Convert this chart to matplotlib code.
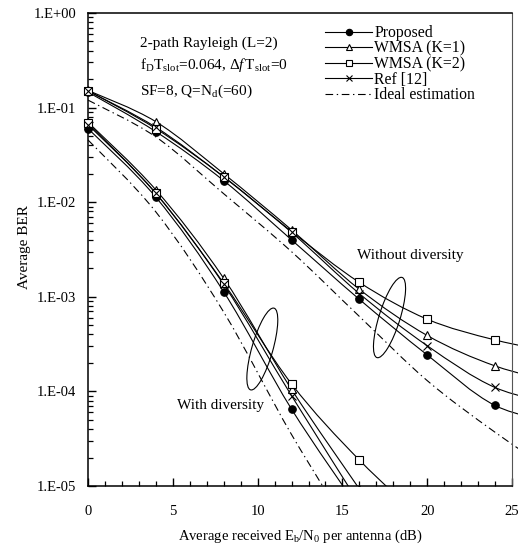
import numpy as np
import matplotlib
matplotlib.use("Agg")
import matplotlib.pyplot as plt
from matplotlib.path import Path
from matplotlib.patches import PathPatch, Ellipse, Rectangle
from matplotlib.lines import Line2D
from matplotlib.transforms import Affine2D

plt.rcParams["font.family"] = ["Liberation Serif", "DejaVu Serif"]
plt.rcParams["mathtext.fontset"] = "custom"
plt.rcParams["mathtext.rm"] = "Liberation Serif"
plt.rcParams["mathtext.it"] = "Liberation Serif:italic"
plt.rcParams["lines.scale_dashes"] = False

# --- BER vs Eb/N0, single antenna (without diversity) ---
snr_nodiv = [0, 4, 8, 12, 16, 20, 24, 28]
prop_nodiv = [0.146, 0.0557, 0.0169, 0.0040, 0.00094, 0.000243, 7.1e-5, 4.6e-5]
k1_nodiv = [0.152, 0.071, 0.0200, 0.0051, 0.00120, 0.00039, 0.000186, 1.2e-4]
k2_nodiv = [0.151, 0.060, 0.0186, 0.0049, 0.00142, 0.00058, 0.00035, 2.5e-4]
ref_nodiv = [0.150, 0.062, 0.0185, 0.0048, 0.00108, 0.000304, 0.00011, 7.1e-5]
ideal_nodiv = [0.120, 0.049, 0.0123, 0.0030, 0.00062, 0.000130, 3.7e-5, 1.2e-5]

# --- BER vs Eb/N0, antenna diversity ---
snr_div = [0, 4, 8, 12, 16, 20]
prop_div = [0.060, 0.0113, 0.00113, 6.5e-5, 5.6e-6]
k1_div = [0.070, 0.0135, 0.00157, 1.05e-4, 9.3e-6]
k2_div = [0.068, 0.0124, 0.00139, 1.2e-4, 1.88e-5, 4.0e-6]
ref_div = [0.066, 0.0124, 0.00135, 9.0e-5, 6.5e-6]
ideal_div = [0.0455, 0.0079, 0.00069, 3.5e-5, 2.4e-6]

labels = ["Proposed", "WMSA (K=1)", "WMSA (K=2)", "Ref [12]", "Ideal estimation"]
y_ticks = [1e-5, 1e-4, 1e-3, 1e-2, 1e-1, 1e0]
x_ticks = [0, 5, 10, 15, 20, 25]

DASHDOT = (0, (5.5, 2.6, 1.0, 2.6))
styles = [
    dict(marker="o", mfc="black", ms=5.4),
    dict(marker="^", mfc="white", ms=6.2),
    dict(marker="s", mfc="white", ms=5.4),
    dict(marker="x", mfc="none", ms=6.0),
]


def smooth_path(x, y):
    # smoothed line through the points, built in (x, log10 y) space
    pts = np.column_stack([np.asarray(x, float), np.log10(y)])
    n = len(pts)
    verts = [pts[0]]
    codes = [Path.MOVETO]
    for i in range(n - 1):
        p0 = pts[max(i - 1, 0)]
        p1 = pts[i]
        p2 = pts[i + 1]
        p3 = pts[min(i + 2, n - 1)]
        verts += [p1 + (p2 - p0) / 6.0, p2 - (p3 - p1) / 6.0, p2]
        codes += [Path.CURVE4] * 3
    verts = np.array(verts)
    verts[:, 1] = 10 ** verts[:, 1]
    return Path(verts, codes)


fig = plt.figure(figsize=(5.27, 5.47), dpi=100)
ax = fig.add_axes([0.167, 0.1115, 0.8046, 0.8647])
ax.set_yscale("log")
ax.set_xlim(0, 25)
ax.set_ylim(1e-5, 1)

clip = Rectangle((-0.03, 0), 1.043, 1.0, transform=ax.transAxes)

for snr, group in [(snr_nodiv, [prop_nodiv, k1_nodiv, k2_nodiv, ref_nodiv, ideal_nodiv]),
                   (snr_div, [prop_div, k1_div, k2_div, ref_div, ideal_div])]:
    for j, ber in enumerate(group):
        xs = snr[:len(ber)]
        ls = DASHDOT if j == 4 else "-"
        pp = PathPatch(smooth_path(xs, ber), fill=False, edgecolor="black",
                       lw=0.8, linestyle=ls, transform=ax.transData, zorder=2)
        ax.add_patch(pp)
        pp.set_clip_path(clip)
        if j < 4:
            mk, = ax.plot(xs, ber, ls="none", color="black", mec="black",
                          mew=0.8, zorder=3, **styles[j])
            mk.set_clip_path(clip)

# axes styling
ax.set_xticks(x_ticks)
ax.set_xticks(np.arange(0, 26, 1), minor=True)
ax.set_yticks(y_ticks)
ax.set_yticklabels(["1.E%+03d" % int(np.log10(v)) for v in y_ticks])
ax.tick_params(which="both", direction="in", top=False, right=False,
               labelsize=10.5, color="black")
ax.tick_params(axis="x", which="major", length=6, width=1.0, pad=14)
ax.tick_params(axis="x", which="minor", length=3.5, width=0.9)
ax.tick_params(axis="y", which="major", length=6, width=1.0, pad=8.5)
ax.tick_params(axis="y", which="minor", length=3.5, width=0.9)
ax.yaxis.set_minor_formatter(plt.NullFormatter())
for side in ["left", "bottom", "top"]:
    ax.spines[side].set_linewidth(1.1)
ax.spines["right"].set_linewidth(0.8)
ax.spines["right"].set_color("#555555")

ax.set_xlabel(r"Average received E$_{\mathrm{b}}$/N$_{\mathrm{0}}$ per antenna (dB)", fontsize=10.5)
ax.xaxis.set_label_coords(0.5, -0.087)
ax.set_ylabel("Average BER", fontsize=11)
ax.yaxis.set_label_coords(-0.135, 0.506)

# channel conditions
ax.text(0.1226, 0.9288, "2-path Rayleigh (L=2)", transform=ax.transAxes,
        fontsize=11, va="baseline")
ax.text(0.1226, 0.8807,
        r"f$_{\mathrm{D}}$T$_{\mathrm{slot}}$=0.064, $\mathit{Δf}\,$T$_{\mathrm{slot}}$=0",
        transform=ax.transAxes, fontsize=11, va="baseline")
ax.text(0.1226, 0.8266, r"SF=8, Q=N$_{\mathrm{d}}$(=60)", transform=ax.transAxes,
        fontsize=11, va="baseline")

# group labels with ellipses drawn in pixel units from the axes corner
px = Affine2D().scale(1 / 424.0, 1 / 473.0) + ax.transAxes
ax.add_patch(Ellipse((301.5, 168.5), 84, 21, angle=72.6, fill=False,
                     lw=0.8, edgecolor="black", transform=px))
ax.add_patch(Ellipse((174.3, 137.0), 85, 21, angle=74.0, fill=False,
                     lw=0.8, edgecolor="black", transform=px))
ax.text(0.7606, 0.488, "Without diversity", transform=ax.transAxes,
        fontsize=11, ha="center", va="center")
ax.text(0.3129, 0.171, "With diversity", transform=ax.transAxes,
        fontsize=11, ha="center", va="center")

# legend
handles = [
    Line2D([], [], color="black", lw=0.8, marker="o", mfc="black", mec="black", ms=4.6, mew=0.8),
    Line2D([], [], color="black", lw=0.8, marker="^", mfc="white", mec="black", ms=5.0, mew=0.8),
    Line2D([], [], color="black", lw=0.8, marker="s", mfc="white", mec="black", ms=4.4, mew=0.8),
    Line2D([], [], color="black", lw=0.8, marker="x", mec="black", ms=5.0, mew=0.8),
    Line2D([], [], color="black", lw=0.8, linestyle=DASHDOT),
]
ax.legend(handles, labels, loc="upper left", bbox_to_anchor=(0.559, 0.974),
          frameon=False, fontsize=11.3, borderpad=0, borderaxespad=0,
          handlelength=3.0, handletextpad=0.15, labelspacing=-0.035)

fig.savefig("out.png", dpi=100)
